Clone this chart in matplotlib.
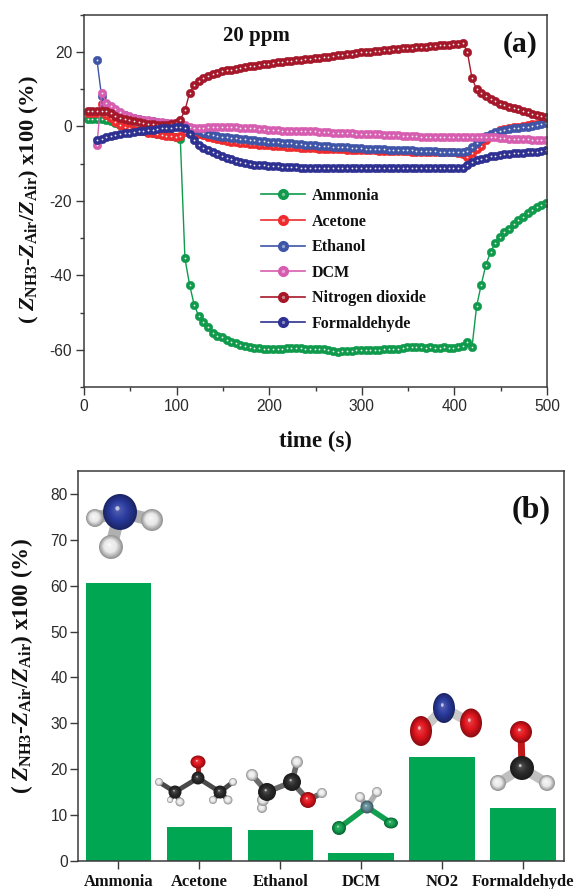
import numpy as np
import matplotlib
matplotlib.use('Agg')
import matplotlib.pyplot as plt
from matplotlib.patches import Ellipse
from matplotlib.legend_handler import HandlerTuple
from matplotlib.ticker import MultipleLocator

plt.rcParams['font.family'] = 'Liberation Sans'
plt.rcParams['axes.unicode_minus'] = False
plt.rcParams['mathtext.fontset'] = 'custom'
plt.rcParams['mathtext.rm'] = 'Liberation Serif:bold'
plt.rcParams['mathtext.it'] = 'Liberation Serif:italic:bold'
plt.rcParams['mathtext.bf'] = 'Liberation Serif:bold'

W, H = 574, 889
SERIF = 'Liberation Serif'
EDGE = '#3a3a3a'

time_s = np.arange(4, 500, 5)

ammonia = [2, 2, 2, 2, 1.8, 1.5, 1, .3, -.2, -.6,
           -1, -1.2, -1.4, -1.6, -1.8, -2, -2.2, -2.4, -2.6, -2.8,
           -3.4, -35.5, -42.5, -48, -51, -52.5, -54, -55.5, -56.2, -56.6,
           -57.3, -57.9, -58.3, -58.8, -59, -59.3, -59.4, -59.6, -59.7, -59.7,
           -59.9, -59.9, -59.7, -59.5, -59.4, -59.4, -59.6, -59.7, -59.8, -59.8,
           -59.8, -59.8, -60, -60.3, -60.6, -60.4, -60.3, -60.3, -60.2, -60,
           -60, -60.2, -60.1, -60, -59.9, -59.9, -59.9, -59.7, -59.4, -59.3,
           -59.2, -59.2, -59.3, -59.4, -59.3, -59.5, -59.6, -59.3, -59.4, -59.5,
           -59.2, -59.1, -57.8, -59.3, -48.3, -42.5, -37.2, -33.8, -31.3, -29.8,
           -28.5, -27.5, -26.2, -25.3, -24.3, -23.4, -22.6, -21.8, -21.2, -20.6]

acetone = [3.5, 3.5, 3.5, 6, 3, 2.2, 1.2, .4, -.2, -.6,
           -1, -1.2, -1.4, -1.7, -1.9, -2.1, -2.3, -2.5, -2.7, -2.9,
           -2.7, -1.6, -1.2, -1.5, -2, -2.4, -2.8, -3.1, -3.4, -3.7,
           -3.9, -4.1, -4.3, -4.4, -4.6, -4.7, -4.8, -4.9, -5, -5.1,
           -5.2, -5.3, -5.4, -5.5, -5.6, -5.7, -5.8, -5.8, -5.9, -5.9,
           -6, -6, -6.1, -6.1, -6.2, -6.2, -6.3, -6.3, -6.4, -6.4,
           -6.5, -6.5, -6.5, -6.6, -6.6, -6.6, -6.7, -6.7, -6.7, -6.7,
           -6.8, -6.8, -6.8, -6.9, -6.9, -6.9, -7, -7, -7, -7,
           -7.1, -7.4, -8.2, -7.2, -6.2, -5.2, -3.6, -2.4, -1.7, -1,
           -.7, -.5, -.3, -.1, .1, .3, .5, .7, 1, 1.2]

ethanol = [17.8, 8, 6, 5, 4.2, 3.6, 3, 2.6,
           2.2, 2, 1.7, 1.5, 1.3, 1.1, .9, .8, .6, .5,
           .4, .2, -.4, -1, -1.4, -1.8, -2.1, -2.4, -2.6, -2.8,
           -3, -3.1, -3.2, -3.3, -3.5, -3.6, -3.8, -3.9, -4, -4.1,
           -4.2, -4.3, -4.4, -4.5, -4.6, -4.7, -4.8, -4.9, -5, -5.1,
           -5.2, -5.3, -5.4, -5.5, -5.5, -5.6, -5.7, -5.8, -5.8, -5.9,
           -6, -6, -6.1, -6.2, -6.2, -6.3, -6.4, -6.4, -6.5, -6.5,
           -6.5, -6.6, -6.6, -6.7, -6.7, -6.7, -6.8, -6.8, -6.8, -6.9,
           -6.9, -7, -6.6, -5.6, -4.6, -3.5, -2.5, -2, -1.5, -1.2,
           -1, -.8, -.6, -.5, -.3, -.1, .1, .3, .6, .8]

dcm = [-5, 9, 6.3, 5.5, 4.5, 3.7, 3.1, 2.7,
       2.3, 2, 1.8, 1.6, 1.4, 1.2, 1.1, 1, .9, .8,
       .6, .3, -.2, -.5, -.6, -.4, -.2, -.1, -.2, -.3,
       -.3, -.2, -.3, -.4, -.5, -.6, -.6, -.7, -.8, -.9,
       -1, -1.1, -1.2, -1.2, -1.2, -1.3, -1.3, -1.4, -1.4, -1.4,
       -1.5, -1.6, -1.6, -1.7, -1.8, -1.8, -1.8, -1.9, -2, -2,
       -2.1, -2.1, -2.2, -2.2, -2.3, -2.4, -2.4, -2.4, -2.5, -2.6,
       -2.6, -2.7, -2.8, -2.9, -3, -3, -3, -3, -3, -3,
       -3, -3, -3, -3, -2.9, -2.9, -2.9, -2.9, -3, -3.1,
       -3.2, -3.3, -3.3, -3.4, -3.5, -3.5, -3.6, -3.7, -3.7, -3.7]

no2 = [4, 4, 4, 4, 4, 3.5, 2.7, 2.3, 2, 1.7,
       1.4, 1.1, .9, .7, .5, .4, .3, .4, .6, .9,
       1.7, 4.3, 8.9, 11, 12.2, 13, 13.5, 14, 14.4, 14.7,
       15, 15.2, 15.5, 15.7, 15.9, 16.1, 16.3, 16.5, 16.6, 16.8,
       17, 17.2, 17.3, 17.4, 17.5, 17.7, 17.8, 18, 18.1, 18.3,
       18.4, 18.6, 18.7, 18.9, 19, 19.2, 19.3, 19.5, 19.6, 19.8,
       19.9, 20, 20.2, 20.3, 20.4, 20.6, 20.7, 20.8, 20.9, 21,
       21.1, 21.2, 21.3, 21.4, 21.5, 21.6, 21.7, 21.8, 21.9, 22,
       22.1, 22.4, 19.9, 12.9, 9.9, 8.8, 8, 7.3, 6.7, 6.1,
       5.6, 5.2, 4.8, 4.5, 4.2, 3.8, 3.4, 3.1, 2.8, 2.5]

formaldehyde = [-3.8, -3.3, -3, -2.7, -2.4, -2.1, -1.9, -1.7,
                -1.5, -1.3, -1.2, -1.1, -.9, -.8, -.6, -.5, -.4, -.2,
                -.1, -.6, -2, -3.8, -4.9, -5.8, -6.4, -7, -7.5, -8,
                -8.4, -8.8, -9.2, -9.6, -9.9, -10.1, -10.3, -10.4, -10.5, -10.6,
                -10.7, -10.8, -10.9, -11, -11, -11, -11.1, -11.1, -11.1, -11.1,
                -11.1, -11.1, -11.1, -11.1, -11.2, -11.2, -11.2, -11.2, -11.2, -11.2,
                -11.2, -11.2, -11.2, -11.2, -11.2, -11.2, -11.2, -11.2, -11.2, -11.2,
                -11.2, -11.2, -11.2, -11.2, -11.2, -11.2, -11.2, -11.2, -11.2, -11.2,
                -11.2, -11.1, -10.4, -9.6, -9.1, -8.7, -8.4, -8.1, -7.9, -7.6,
                -7.5, -7.4, -7.3, -7.2, -7.1, -7, -6.9, -6.8, -6.6, -6.4]

series_names = ['Ammonia', 'Acetone', 'Ethanol', 'DCM', 'Nitrogen dioxide', 'Formaldehyde']
series_values = [ammonia, acetone, ethanol, dcm, no2, formaldehyde]
series_colors = ['#0f9a4c', '#ee2b2e', '#3f55a8', '#d75db0', '#a5182a', '#2e3192']

bar_labels = ['Ammonia', 'Acetone', 'Ethanol', 'DCM', 'NO2', 'Formaldehyde']
bar_values = [60.5, 7.5, 6.7, 1.7, 22.6, 11.5]
bar_color = '#00a651'


def rect(l, t, r, b):
    return [l / W, 1 - b / H, (r - l) / W, (b - t) / H]


fig = plt.figure(figsize=(W / 100, H / 100), dpi=100, facecolor='white')

# ---------- panel (a)
ax = fig.add_axes(rect(84, 14.5, 547, 387))
handles = []
for vals, c in zip(series_values, series_colors):
    t = time_s[-len(vals):]
    ax.plot(t, vals, '-', color=c, lw=1.0, marker='o', ms=6.2, mec=c, mew=0.3)
    ax.plot(t, vals, ls='none', marker='o', ms=1.3, mfc='#f0f0f0', mec='none')
    handles.append((plt.Line2D([], [], color=c, lw=1.2, marker='o', ms=7, mec=c),
                    plt.Line2D([], [], ls='none', marker='o', ms=2.4, mfc='white', mec='none', alpha=.45)))
ax.set_xlim(0, 500)
ax.set_ylim(-70, 30)
ax.xaxis.set_major_locator(MultipleLocator(100))
ax.xaxis.set_minor_locator(MultipleLocator(50))
ax.yaxis.set_minor_locator(MultipleLocator(10))
ax.set_yticks([-60, -40, -20, 0, 20])
ax.set_xlabel('time (s)', family=SERIF, weight='bold', fontsize=16.4, labelpad=12, color='#111111')

leg = ax.legend(handles, series_names, handler_map={tuple: HandlerTuple(ndivide=1, pad=0)},
                loc='upper left', bbox_to_anchor=((261 - 84) / 463, 1 - (188 - 14.5) / 372.5),
                frameon=False, fontsize=11.5, labelspacing=0.6, handlelength=2.75,
                handletextpad=0.44, borderaxespad=0, borderpad=0)
for tx in leg.get_texts():
    tx.set_family(SERIF)
    tx.set_weight('bold')
    tx.set_color('#111111')

# ---------- panel (b)
ax2 = fig.add_axes(rect(78, 471, 563.5, 861))
pos = np.arange(len(bar_values))
ax2.bar(pos, bar_values, width=0.81, color=bar_color)
ax2.set_xlim(-0.5, 5.5)
ax2.set_ylim(0, 85)
ax2.set_yticks(np.arange(0, 81, 10))
ax2.set_xticks(pos)
ax2.set_xticklabels(bar_labels, family=SERIF, weight='bold', fontsize=11.9, color='#111111')

for a in (ax, ax2):
    for s in a.spines.values():
        s.set_linewidth(1.1)
        s.set_color(EDGE)
    a.tick_params(axis='both', which='major', length=5.5, width=1.0, color=EDGE,
                  labelsize=11.2, labelcolor='#2a2a2a', pad=3)
    a.tick_params(axis='both', which='minor', length=3, width=1.0, color=EDGE)
ax2.tick_params(axis='x', labelsize=11.9, labelcolor='#111111', pad=4)
ax2.tick_params(axis='y', pad=2)

ylab = r'( $\mathit{Z}_{\mathrm{NH3}}$-$\mathit{Z}_{\mathrm{Air}}$/$\mathit{Z}_{\mathrm{Air}}$) x100 (%)'
fig.text(29 / W, 1 - 200 / H, ylab, rotation=90, ha='center', va='center', family=SERIF,
         weight='bold', fontsize=16.2, color='#111111')
fig.text(22 / W, 1 - 666 / H, ylab, rotation=90, ha='center', va='center', family=SERIF,
         weight='bold', fontsize=16.7, color='#111111')
fig.text(256 / W, 1 - 36.5 / H, '20 ppm', ha='center', va='center', family=SERIF, weight='bold', fontsize=15, color='#111111')
fig.text(520 / W, 1 - 45 / H, '(a)', ha='center', va='center', family=SERIF, weight='bold', fontsize=21.5, color='#111111')
fig.text(531 / W, 1 - 510 / H, '(b)', ha='center', va='center', family=SERIF, weight='bold', fontsize=23, color='#111111')

# ---------- molecule pictures (decoration, in figure pixels)
ov = fig.add_axes([0, 0, 1, 1], zorder=10)
ov.set_xlim(0, W)
ov.set_ylim(H, 0)
ov.set_autoscale_on(False)
ov.axis('off')
ov.patch.set_alpha(0)
_z = [1.0]


def nextz():
    _z[0] += 0.01
    return _z[0]


def mix(c, other, f):
    a = np.array(matplotlib.colors.to_rgb(c))
    b = np.array(matplotlib.colors.to_rgb(other))
    return tuple(a * (1 - f) + b * f)


def ball(x, y, rx, color, ry=None, light=0.35):
    ry = rx if ry is None else ry
    n = 9
    for i in range(n):
        f = i / (n - 1)
        s = 1 - 0.85 * f
        col = mix(mix(color, 'black', 0.35), color, min(1, f * 2)) if f < .5 else mix(color, 'white', (f - .5) * light)
        ov.add_patch(Ellipse((x - 0.12 * rx * f, y - 0.15 * ry * f), 2 * rx * s, 2 * ry * s,
                             color=col, lw=0, zorder=nextz()))
    ov.add_patch(Ellipse((x - 0.15 * rx, y - 0.2 * ry), 0.25 * rx, 0.25 * ry, color=mix(color, 'white', .7),
                         lw=0, zorder=nextz()))


def bond(p, q, color='#b8b8b8', lw=4):
    ov.plot([p[0], q[0]], [p[1], q[1]], color=color, lw=lw, solid_capstyle='round', zorder=nextz())


BLUE, RED, BLACK, WHITE_H, CL, TEAL = '#2a3a9e', '#e0141c', '#2c2c2c', '#e8e8e8', '#12a050', '#5f8a95'
WH = dict(light=1)

# NH3
N = (120, 512)
for h, r in (((95, 518), 9), ((152, 520), 11), ((111, 547), 12)):
    bond(N, h, '#b0b0b0', 9)
    ball(*h, r, WHITE_H, **WH)
ball(*N, 17, BLUE, ry=18)

# acetone
C0, CL1, CR1, O = (198, 778), (175, 792), (220, 792), (198, 762)
bond(C0, O, '#a02020', 3.5)
for a, b in ((C0, CL1), (C0, CR1), (CL1, (159, 782)), (CL1, (180, 802)), (CL1, (170, 800)),
             (CR1, (233, 782)), (CR1, (213, 800)), (CR1, (228, 800))):
    bond(a, b, '#4a4a4a', 3.5)
for h, r in (((159, 782), 4), ((180, 802), 4.5), ((170, 800), 3), ((233, 782), 4), ((213, 800), 4), ((228, 800), 4.5)):
    ball(*h, r, WHITE_H, **WH)
ball(*CL1, 6.5, BLACK)
ball(*CR1, 6.5, BLACK)
ball(*C0, 6.5, BLACK)
ball(*O, 7.5, RED, ry=6.5)

# ethanol
C1, C2, OE = (267, 792), (292, 782), (308, 800)
for a, b in ((C1, C2), (C2, OE), (OE, (322, 793)), (C2, (297, 762)), (C1, (252, 775)), (C1, (263, 800)), (C1, (262, 808))):
    bond(a, b, '#6a6a6a', 4)
for h, r in (((297, 762), 6), ((252, 775), 6), ((262, 808), 5), ((263, 800), 6), ((322, 793), 5)):
    ball(*h, r, WHITE_H, **WH)
ball(*C1, 9, BLACK)
ball(*C2, 9, BLACK)
ball(*OE, 8, RED)

# DCM
CD = (367, 807)
for q, col in (((339, 828), CL), ((391, 823), CL), ((377, 792), '#b0b0b0'), ((360, 797), '#b0b0b0')):
    bond(CD, q, col, 4)
ball(377, 792, 5, WHITE_H, **WH)
ball(360, 797, 5, WHITE_H, **WH)
ball(339, 828, 7, CL)
ball(391, 823, 7, CL, ry=5.5)
ball(*CD, 6.5, TEAL)

# NO2
NN = (444, 708)
bond(NN, (421, 731), '#c8c8c8', 7)
bond(NN, (471, 723), '#c8c8c8', 7)
ball(421, 731, 11, RED, ry=15)
ball(471, 723, 11, RED, ry=14.5)
ball(*NN, 11, BLUE, ry=15)

# formaldehyde
CF = (522, 768)
bond(CF, (521, 732), '#c01818', 5)
bond(CF, (498, 783), '#c0c0c0', 7)
bond(CF, (547, 783), '#c0c0c0', 7)
ball(498, 783, 8, WHITE_H, **WH)
ball(547, 783, 8, WHITE_H, **WH)
ball(*CF, 12, BLACK)
ball(521, 732, 11, RED)

fig.savefig('out.png', dpi=100)
